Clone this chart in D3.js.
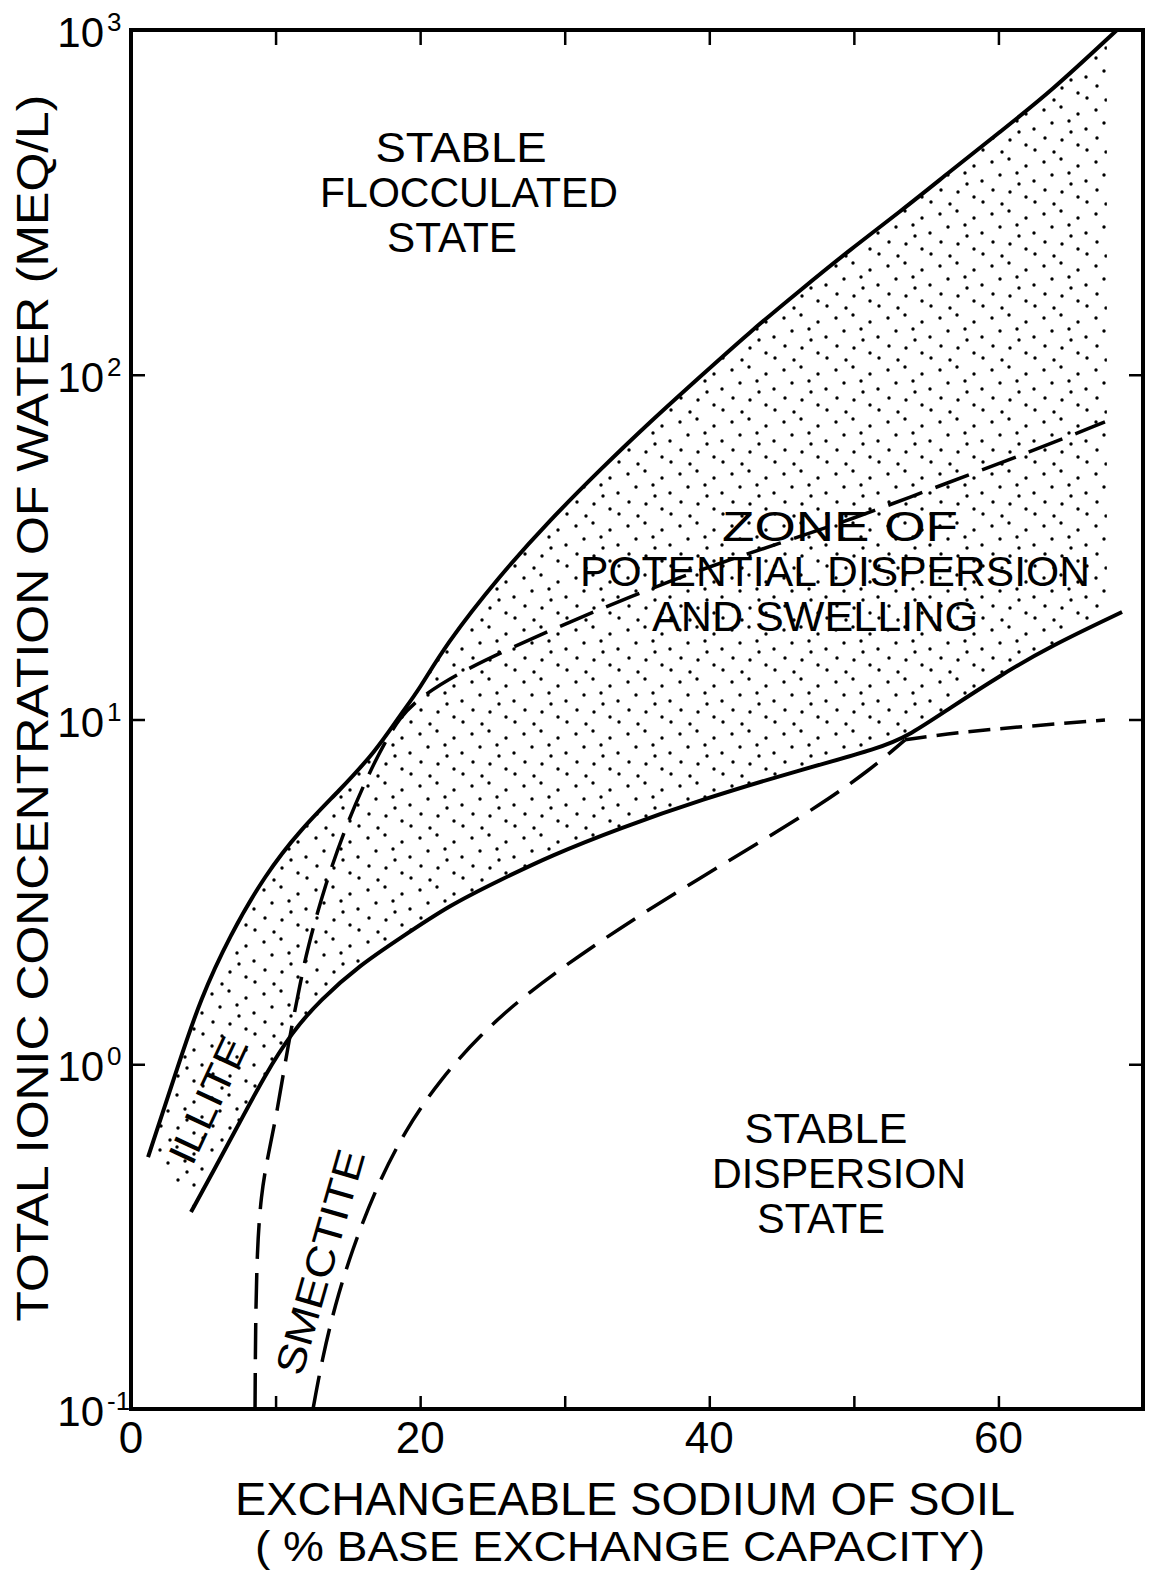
<!DOCTYPE html>
<html><head><meta charset="utf-8">
<script src="https://cdn.jsdelivr.net/npm/d3@7"></script>
<style>body{margin:0;background:#fff}svg{display:block}</style>
</head><body>
<script>
// ---------- data (x: % exchangeable sodium, y: meq/L) ----------
const illiteUpper = [[1.18,0.538],[3.32,1.009],[4.77,1.535],[6.85,2.37],[9.27,3.54],[11.69,4.78],[14.46,6.25],[16.88,8.05],[18.61,10.3],[19.99,12.3],[21.72,16.4],[25.52,26.2],[28.98,37.9],[32.44,53.0],[35.9,73.0],[39.4,99],[42.8,133],[46.3,176],[49.7,230],[53.2,297],[56.6,387],[60.1,506],[63.6,661],[68.2,1000]];
const illiteLower = [[4.15,0.3727],[5.81,0.5],[7.54,0.68],[9.27,0.931],[11.14,1.24],[13.08,1.535],[15.84,1.94],[18.61,2.32],[22.07,2.90],[25.52,3.42],[28.98,4.02],[33.82,4.84],[39.36,5.84],[46.28,7.14],[51.8,8.26],[53.88,9.02],[56.65,10.8],[60.1,13.4],[63.57,16.3],[68.55,20.5]];
const smectiteUpper = [[8.58,0.1],[8.61,0.1694],[8.72,0.289],[8.99,0.418],[9.48,0.546],[10.1,0.723],[10.86,1.137],[11.69,1.70],[12.17,2.14],[13.42,3.31],[15.01,5.11],[16.88,7.63],[18.61,10.3],[20.34,11.86],[22.76,13.7],[26.22,16.1],[30.37,19.2],[34.52,22.7],[39.36,27.2],[44.89,32.5],[49.73,37.9],[56.65,48.9],[62.18,59.7],[67.37,73.0]];
const smectiteLower = [[12.59,0.1],[13.21,0.1387],[14.11,0.2004],[15.29,0.289],[16.88,0.4315],[18.95,0.644],[21.37,0.90],[24.14,1.216],[27.25,1.588],[31.06,2.075],[35.21,2.71],[39.36,3.47],[43.51,4.41],[47.66,5.65],[51.12,7.14],[53.54,8.73]];
const smectiteLowerTail = [[53.54,8.73],[57.34,9.2],[62.18,9.57],[67.37,9.97]];
const stippleLimitX = 67.5;

const xTickValues = [0,10,20,30,40,50,60,70];
const xTickLabels = [0,20,40,60];
const yTickValues = [0.1,1,10,100,1000];
const yTickExponents = ["-1","0","1","2","3"];

const xTitle = ["EXCHANGEABLE  SODIUM  OF  SOIL","( % BASE EXCHANGE CAPACITY)"];
const yTitle = "TOTAL IONIC CONCENTRATION OF WATER (MEQ/L)";
const floccLabel = ["STABLE","FLOCCULATED","STATE"];
const zoneLabel = ["ZONE OF","POTENTIAL DISPERSION","AND SWELLING"];
const dispLabel = ["STABLE","DISPERSION","STATE"];
const clayLabels = ["ILLITE","SMECTITE"];

// ---------- layout ----------
const W = 1151, H = 1571;
const FONT = "'Liberation Sans', Arial, sans-serif";
const svg = d3.select("body").append("svg").attr("width", W).attr("height", H)
  .style("font-family", FONT);
const x = d3.scaleLinear().domain([0,70]).range([131,1143]);
const y = d3.scaleLog().domain([0.1,1000]).range([1409,30]);

// stipple pattern
const defs = svg.append("defs");
const pat = defs.append("pattern").attr("id","dots").attr("patternUnits","userSpaceOnUse")
  .attr("width",52).attr("height",52);
[[4,6],[21,3],[38,10],[12,19],[29,17],[46,25],[5,34],[22,36],[38,41],[14,48],[31,28],[47,46]].forEach(p =>
  pat.append("circle").attr("cx",p[0]).attr("cy",p[1]).attr("r",1.7).attr("fill","#000"));
defs.append("clipPath").attr("id","stipClip").append("rect")
  .attr("x", x(0)).attr("y", y(1000)).attr("width", x(stippleLimitX)-x(0)).attr("height", y(0.1)-y(1000));
defs.append("clipPath").attr("id","plotClip").append("rect")
  .attr("x", x(0)).attr("y", y(1000)).attr("width", x(70)-x(0)).attr("height", y(0.1)-y(1000));

const line = d3.line().x(d => x(d[0])).y(d => y(d[1])).curve(d3.curveBasis);

// stipple zone (between illite curves)
const up = line(illiteUpper);
const lo = line(illiteLower.slice().reverse());
svg.append("path").attr("d", up + "L" + lo.slice(1) + "Z")
  .attr("fill","url(#dots)").attr("stroke","none").attr("clip-path","url(#stipClip)");

const g = svg.append("g").attr("clip-path","url(#plotClip)");
g.append("path").attr("d", line(illiteUpper)).attr("fill","none").attr("stroke","#000").attr("stroke-width",4);
g.append("path").attr("d", line(illiteLower)).attr("fill","none").attr("stroke","#000").attr("stroke-width",4);
g.append("path").attr("d", line(smectiteUpper)).attr("fill","none").attr("stroke","#000").attr("stroke-width",3.5)
  .attr("stroke-dasharray","36 14");
g.append("path").attr("d", line(smectiteLower)).attr("fill","none").attr("stroke","#000").attr("stroke-width",3.5)
  .attr("stroke-dasharray","34 14");
g.append("path").attr("d", line(smectiteLowerTail)).attr("fill","none").attr("stroke","#000").attr("stroke-width",3.5)
  .attr("stroke-dasharray","22 10");

// axes (ticks inward)
const tickStyle = sel => { sel.select(".domain").remove(); sel.selectAll("line").attr("stroke","#000").attr("stroke-width",2.5); sel.selectAll("text").remove(); };
svg.append("g").attr("transform",`translate(0,${y(0.1)})`)
  .call(d3.axisBottom(x).tickValues(xTickValues.slice(1,-1)).tickSize(-13)).call(tickStyle);
svg.append("g").attr("transform",`translate(0,${y(1000)})`)
  .call(d3.axisTop(x).tickValues(xTickValues.slice(1,-1)).tickSize(-15)).call(tickStyle);
svg.append("g").attr("transform",`translate(${x(0)},0)`)
  .call(d3.axisLeft(y).tickValues(yTickValues.slice(1,-1)).tickSize(-14)).call(tickStyle);
svg.append("g").attr("transform",`translate(${x(70)},0)`)
  .call(d3.axisRight(y).tickValues(yTickValues.slice(1,-1)).tickSize(-14)).call(tickStyle);

// frame
svg.append("rect").attr("x", x(0)).attr("y", y(1000)).attr("width", x(70)-x(0)).attr("height", y(0.1)-y(1000))
  .attr("fill","none").attr("stroke","#000").attr("stroke-width",4);

// x tick labels
svg.selectAll(".xl").data(xTickLabels).enter().append("text")
  .attr("x", d => x(d)).attr("y", y(0.1) + 44).attr("text-anchor","middle")
  .attr("font-size",44).text(d => d);

// y tick labels
yTickValues.forEach((v,i) => {
  svg.append("text").attr("x", 104).attr("y", y(v) + 17).attr("text-anchor","end").attr("font-size",42).text("10");
  svg.append("text").attr("x", 107).attr("y", y(v) + 1).attr("font-size",26).text(yTickExponents[i]);
});

// axis titles
const fit = (sel, w) => sel.attr("textLength", w).attr("lengthAdjust","spacingAndGlyphs");
svg.append("text").attr("x", 625).attr("y", 1515).attr("text-anchor","middle").attr("font-size",46)
  .text(xTitle[0]).call(fit, 780);
svg.append("text").attr("x", 620).attr("y", 1561).attr("text-anchor","middle").attr("font-size",43)
  .text(xTitle[1]).call(fit, 730);
svg.append("text").attr("transform","translate(48,708) rotate(-90)").attr("text-anchor","middle").attr("font-size",44)
  .text(yTitle).call(fit, 1227);

// region labels
const block = (lines, cxs, base, widths) => lines.forEach((t,i) =>
  svg.append("text").attr("x", cxs[i]).attr("y", base + i*45).attr("text-anchor","middle").attr("font-size",42)
    .text(t).call(fit, widths[i]));
block(floccLabel, [461,469,452], 162, [171,298,130]);
block(zoneLabel, [840,835,815], 541, [236,510,326]);
block(dispLabel, [826,839,821], 1143, [163,254,128]);

// clay labels (rotated)
svg.append("text").attr("transform","translate(208,1100) rotate(-65)").attr("text-anchor","middle")
  .attr("dominant-baseline","central").attr("font-size",40).text(clayLabels[0]).call(fit, 135);
svg.append("text").attr("transform","translate(320,1262) rotate(-74)").attr("text-anchor","middle")
  .attr("dominant-baseline","central").attr("font-size",40).text(clayLabels[1]).call(fit, 232);
</script>
</body></html>
